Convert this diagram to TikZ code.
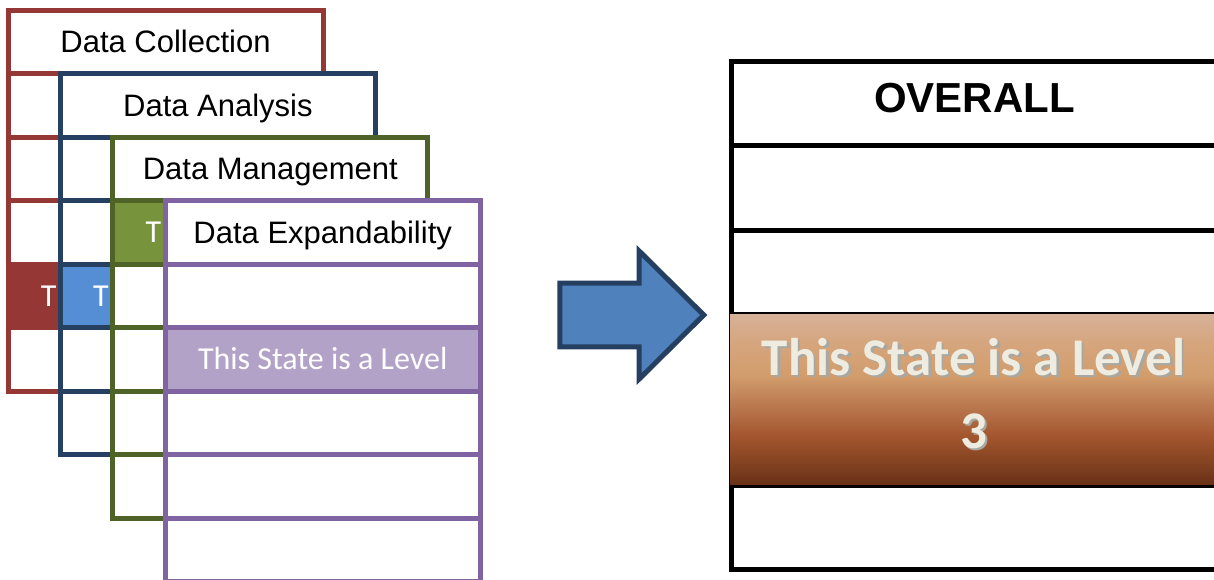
\documentclass[tikz,border=0pt]{standalone}
\usepackage{fontspec}
\setmainfont{Liberation Sans}
\newfontfamily\calibri{Carlito}

% table colours
\definecolor{dcRed}{HTML}{953735}
\definecolor{daBlue}{HTML}{254061}
\definecolor{daFill}{HTML}{558ED5}
\definecolor{dmGreen}{HTML}{4F6228}
\definecolor{dmFill}{HTML}{77933C}
\definecolor{dePurple}{HTML}{8064A2}
\definecolor{deFill}{HTML}{B3A2C7}
\definecolor{arrowFill}{HTML}{4F81BD}
\definecolor{arrowLine}{HTML}{243F60}
\definecolor{ivory}{HTML}{EEECE1}
\definecolor{shadowGray}{HTML}{A8A8A2}

% brown level band, dark at the bottom, light at the top
\definecolor{lv0}{HTML}{693015}
\definecolor{lv1}{HTML}{7A3D1E}
\definecolor{lv2}{HTML}{A4562E}
\definecolor{lv3}{HTML}{BB7A50}
\definecolor{lv4}{HTML}{D29D6C}
\definecolor{lv5}{HTML}{D5A57D}
\definecolor{lv6}{HTML}{D7B198}
\pgfdeclareverticalshading{levelshade}{100bp}{color(0bp)=(lv0); color(25bp)=(lv0);
  color(29.5bp)=(lv1); color(39.5bp)=(lv2); color(48.5bp)=(lv3); color(57bp)=(lv4);
  color(66bp)=(lv5); color(75bp)=(lv6); color(100bp)=(lv6)}

\tikzset{
  tcell/.style={rectangle, minimum width=315pt, minimum height=63.5pt, inner sep=0pt,
    line width=5pt, fill=white, font=\fontsize{31}{31}\selectfont,
    text height=22.2pt, text depth=0pt},
  lvltext/.style={font=\calibri\fontsize{32}{32}\selectfont, text=white,
    text height=20.6pt, text depth=0pt},
  bigrow/.style={rectangle, draw=black, fill=white, line width=5pt,
    minimum width=487pt, inner sep=0pt},
  bigtext/.style={font=\calibri\bfseries\fontsize{53}{53}\selectfont, inner sep=0pt, anchor=base},
  blockarrow/.style={fill=arrowFill, draw=arrowLine, line width=5pt, line join=miter},
}

\begin{document}
\begin{tikzpicture}[x=1pt,y=-1pt]
\useasboundingbox (0,0) rectangle (1214,579);
\clip (0,0) rectangle (1214,579);

% four stacked score tables, each one laid over the previous
\foreach \nm/\col/\fil/\cx/\ty/\title/\lv in {
    dc/dcRed/dcRed/165.5/10/Data Collection/5,
    da/daBlue/daFill/217.9/73.5/Data Analysis/4,
    dm/dmGreen/dmFill/270.3/137/Data Management/2,
    de/dePurple/deFill/322.7/200.5/Data Expandability/3} {
  \node[tcell, draw=\col] (\nm-1) at (\cx,{\ty+31.75}) {\title};
  \foreach \r in {2,...,6} {
    \ifnum\r=\lv\relax
      \node[tcell, draw=\col, fill=\fil, lvltext] (\nm-\r) at (\cx,{\ty+63.5*(\r-0.5)}) {This State is a Level};
    \else
      \node[tcell, draw=\col] (\nm-\r) at (\cx,{\ty+63.5*(\r-0.5)}) {};
    \fi
  }
}

% block arrow
\draw[blockarrow] (559.8,283.2) -- (639.2,283.2) -- (639.2,251) -- (703.8,315)
  -- (639.2,379) -- (639.2,346.8) -- (559.8,346.8) -- cycle;

% overall table
\node[bigrow, minimum height=84.5pt, font=\bfseries\fontsize{42}{42}\selectfont,
  text height=30pt, text depth=11pt] (ov-1) at (974.5,103.25) {OVERALL};
\node[bigrow, minimum height=84.5pt] (ov-2) at (974.5,187.75) {};
\node[bigrow, minimum height=84pt] (ov-3) at (974.5,272) {};
\node[bigrow, minimum height=171pt] (ov-4) at (974.5,399.5) {};
\node[bigrow, minimum height=84pt] (ov-5) at (974.5,527) {};
\node[rectangle, draw=black, line width=1.5pt, shading=levelshade, inner sep=0pt,
  minimum width=490.5pt, minimum height=172.5pt] (ov-level) at (974.75,399.25) {};

% level text with its drop shadow
\node[bigtext, text=shadowGray] (lvl-a-shadow) at (976,377.5) {This State is a Level};
\node[bigtext, text=ivory] (lvl-a) at (973.5,375) {This State is a Level};
\node[bigtext, text=shadowGray] (lvl-b-shadow) at (976,450.5) {3};
\node[bigtext, text=ivory] (lvl-b) at (973.5,448) {3};
\end{tikzpicture}
\end{document}
